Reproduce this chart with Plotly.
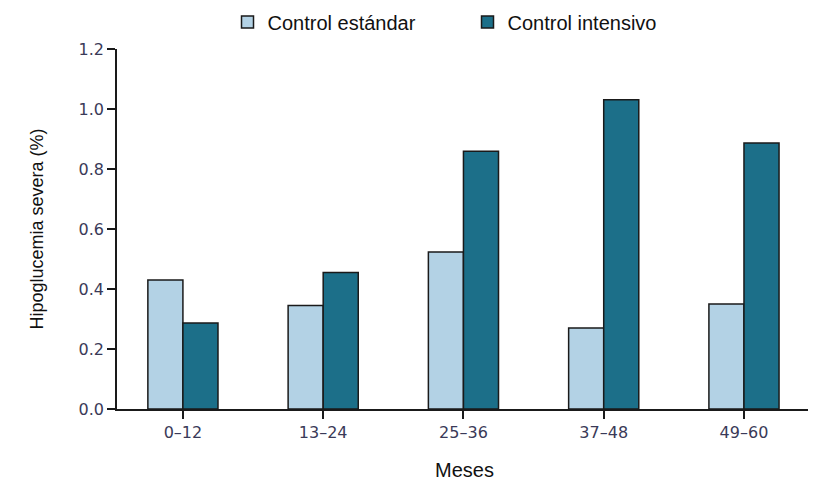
import plotly.graph_objects as go

categories = ["0–12", "13–24", "25–36", "37–48", "49–60"]
estandar = [0.43, 0.345, 0.523, 0.27, 0.35]
intensivo = [0.287, 0.455, 0.859, 1.031, 0.887]
y_ticks = [0.0, 0.2, 0.4, 0.6, 0.8, 1.0, 1.2]

fig = go.Figure()
fig.add_trace(go.Bar(
    x=categories, y=estandar, name="Control estándar",
    marker=dict(color="#b3d2e5", line=dict(color="#1a1a1a", width=1.5)),
))
fig.add_trace(go.Bar(
    x=categories, y=intensivo, name="Control intensivo",
    marker=dict(color="#1c6f89", line=dict(color="#1a1a1a", width=1.5)),
))

tick_font = dict(family="DejaVu Sans, sans-serif", size=16, color="#3a3a58")
fig.update_layout(
    width=816, height=482,
    margin=dict(l=109, r=12, t=41, b=81),
    paper_bgcolor="white", plot_bgcolor="white",
    barmode="group", bargap=0.5, bargroupgap=0,
    font=dict(family="Liberation Sans, Arial, sans-serif", size=19, color="#111111"),
    legend=dict(orientation="h", x=0.159, xanchor="left", xref="paper",
                y=0.971, yanchor="middle", yref="container",
                font=dict(size=20, color="#111111"), entrywidth=195, entrywidthmode="pixels",
                bgcolor="rgba(0,0,0,0)"),
    xaxis=dict(type="category", range=[-0.47, 4.485], showline=True, linecolor="#1a1a1a",
               linewidth=1.5, ticks="outside", ticklen=8, tickwidth=1.5, tickcolor="#1a1a1a",
               tickfont=tick_font, showgrid=False, zeroline=False, automargin=False,
               title=dict(text="Meses", font=dict(size=20), standoff=22)),
    yaxis=dict(range=[0, 1.2], tickvals=y_ticks, tickformat=".1f", showline=True,
               linecolor="#1a1a1a", linewidth=1.5, ticks="outside", ticklen=8, tickwidth=1.5,
               tickcolor="#1a1a1a", tickfont=tick_font, showgrid=False, zeroline=False,
               automargin=False,
               title=dict(text="Hipoglucemia severa (%)", font=dict(size=18), standoff=30)),
)
fig.write_html("out.html")
